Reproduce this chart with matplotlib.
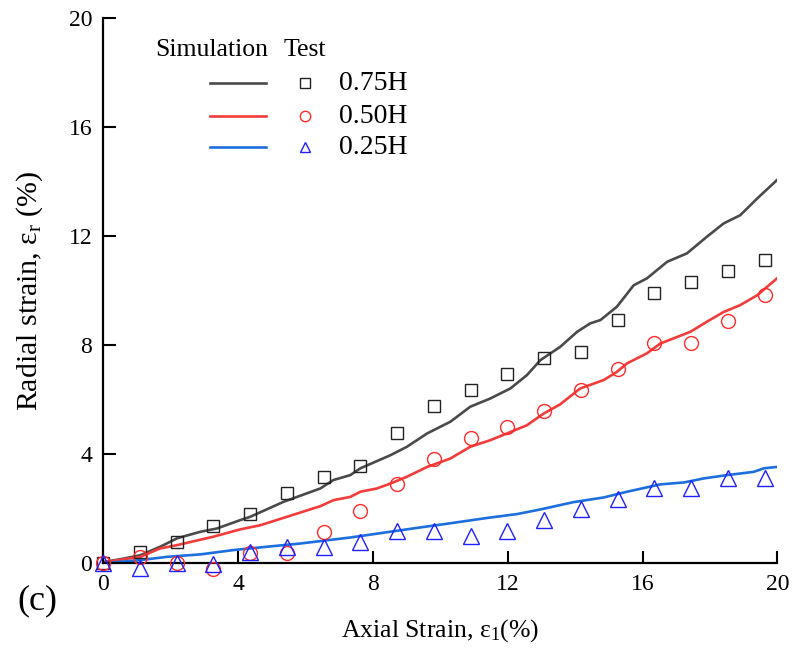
import matplotlib
matplotlib.use("Agg")
import matplotlib.pyplot as plt
from matplotlib.lines import Line2D

plt.rcParams['font.family'] = ['Liberation Serif', 'DejaVu Serif']
plt.rcParams['mathtext.fontset'] = 'custom'
plt.rcParams['mathtext.rm'] = 'Liberation Serif'
plt.rcParams['mathtext.it'] = 'Liberation Serif:italic'

# ---- simulation curves ----
sim75_x = [0.06, 0.50, 1.10, 1.69, 2.19, 2.88, 3.37, 4.07, 4.36, 5.35, 6.44, 6.83, 7.33, 7.63,
           8.52, 9.01, 9.61, 10.30, 10.89, 11.48, 12.08, 12.57, 12.97, 13.56, 14.06, 14.45,
           14.75, 15.24, 15.74, 16.13, 16.73, 17.32, 17.91, 18.41, 18.90, 19.40, 19.99]
sim75_y = [0.05, 0.14, 0.29, 0.60, 0.91, 1.15, 1.27, 1.58, 1.70, 2.25, 2.74, 3.05, 3.23, 3.48,
           3.96, 4.27, 4.76, 5.19, 5.74, 6.04, 6.41, 6.90, 7.45, 7.94, 8.49, 8.80,
           8.92, 9.41, 10.20, 10.45, 11.06, 11.37, 11.98, 12.47, 12.77, 13.38, 14.06]

sim50_x = [0.06, 1.10, 1.69, 2.19, 3.27, 4.07, 4.66, 5.45, 6.44, 6.83, 7.33, 7.63, 8.12, 8.52,
           9.01, 9.61, 10.30, 10.89, 11.48, 11.98, 12.57, 13.07, 13.56, 14.15, 14.85, 15.24,
           15.54, 16.13, 16.53, 17.42, 17.91, 18.41, 18.90, 19.40, 19.99]
sim50_y = [0.04, 0.23, 0.54, 0.66, 0.97, 1.24, 1.39, 1.70, 2.09, 2.31, 2.43, 2.62, 2.74, 2.92,
           3.17, 3.53, 3.84, 4.27, 4.51, 4.76, 5.06, 5.49, 5.83, 6.41, 6.72, 7.02,
           7.33, 7.70, 8.06, 8.49, 8.86, 9.22, 9.47, 9.83, 10.45]

sim25_x = [0.06, 1.10, 1.89, 2.88, 3.87, 4.85, 5.85, 7.33, 9.41, 10.40, 11.40, 12.28, 12.97,
           13.96, 14.85, 15.54, 16.53, 17.23, 17.82, 18.51, 19.30, 19.60, 19.99]
sim25_y = [0.00, 0.11, 0.23, 0.32, 0.48, 0.60, 0.72, 0.94, 1.31, 1.48, 1.66, 1.80, 1.97,
           2.24, 2.41, 2.62, 2.89, 2.96, 3.11, 3.23, 3.35, 3.48, 3.53]

# ---- test data ----
test_x = [0, 1.09, 2.18, 3.27, 4.36, 5.45, 6.54, 7.63, 8.72, 9.81, 10.90, 11.99, 13.08,
          14.17, 15.26, 16.35, 17.44, 18.53, 19.62]
test75 = [0, 0.40, 0.77, 1.36, 1.80, 2.57, 3.16, 3.56, 4.77, 5.76, 6.35, 6.94, 7.52,
          7.74, 8.92, 9.91, 10.31, 10.72, 11.12]
test50 = [0, 0.23, 0, -0.20, 0.38, 0.36, 1.13, 1.91, 2.89, 3.83, 4.61, 5.00, 5.57,
          6.35, 7.12, 8.08, 8.08, 8.87, 9.83]
test25 = [0, -0.17, 0, -0.04, 0.41, 0.60, 0.60, 0.78, 1.19, 1.19, 1.00, 1.17, 1.58,
          1.97, 2.35, 2.74, 2.74, 3.11, 3.11]

labels = ['0.75H', '0.50H', '0.25H']
line_colors = ['#4a4a4a', '#f23c3c', '#1c6fdc']
mk_colors = ['#222222', '#ff2a2a', '#2020ff']
markers = ['s', 'o', '^']
xticks = [0, 4, 8, 12, 16, 20]
yticks = [0, 4, 8, 12, 16, 20]

fig = plt.figure(figsize=(7.94, 6.51), dpi=100)
ax = fig.add_axes([0.130, 0.135, 0.849, 0.837])

sims = [(sim75_x, sim75_y), (sim50_x, sim50_y), (sim25_x, sim25_y)]
tests = [test75, test50, test25]
msizes = [9, 10, 11]
for (sx, sy), c in zip(sims, line_colors):
    ax.plot(sx, sy, color=c, lw=1.9, zorder=2, solid_joinstyle='round')
for ty, mc, m, ms in zip(tests, mk_colors, markers, msizes):
    ax.plot(test_x, ty, linestyle='none', marker=m, ms=ms, mfc='none', mec=mc,
            mew=1.0, clip_on=False, zorder=3)

ax.set_xlim(0, 20)
ax.set_ylim(0, 20)
ax.set_xticks(xticks)
ax.set_yticks(yticks)
ax.tick_params(direction='in', length=9, width=1.5, labelsize=17, pad=8)
for s in ['top', 'right']:
    ax.spines[s].set_visible(False)
for s in ['left', 'bottom']:
    ax.spines[s].set_linewidth(1.6)

ax.set_xlabel(r'Axial Strain, ε$_{\mathregular{1}}$(%)', fontsize=18.5, labelpad=16)
ax.set_ylabel(r'Radial strain, ε$_{\mathregular{r}}$ (%)', fontsize=21.5, labelpad=17)

# legend (custom two-column layout)
ax.text(0.077, 0.941, 'Simulation', transform=ax.transAxes, fontsize=18.5, va='center', ha='left')
ax.text(0.267, 0.941, 'Test', transform=ax.transAxes, fontsize=18.5, va='center', ha='left')
leg_y = [0.881, 0.820, 0.763]
for yy, lc, mc, m, lab in zip(leg_y, line_colors, mk_colors, markers, labels):
    ax.add_line(Line2D([0.159, 0.242], [yy, yy], transform=ax.transAxes, color=lc, lw=1.9))
    ax.add_line(Line2D([0.300], [yy], transform=ax.transAxes, marker=m, ms=7.5,
                       mfc='none', mec=mc, mew=1.0, linestyle='none'))
    ax.text(0.350, yy, lab, transform=ax.transAxes, fontsize=20, va='center', ha='left')

fig.text(0.022, 0.077, '(c)', fontsize=26, ha='left', va='center')

fig.savefig('out.png', dpi=100)
